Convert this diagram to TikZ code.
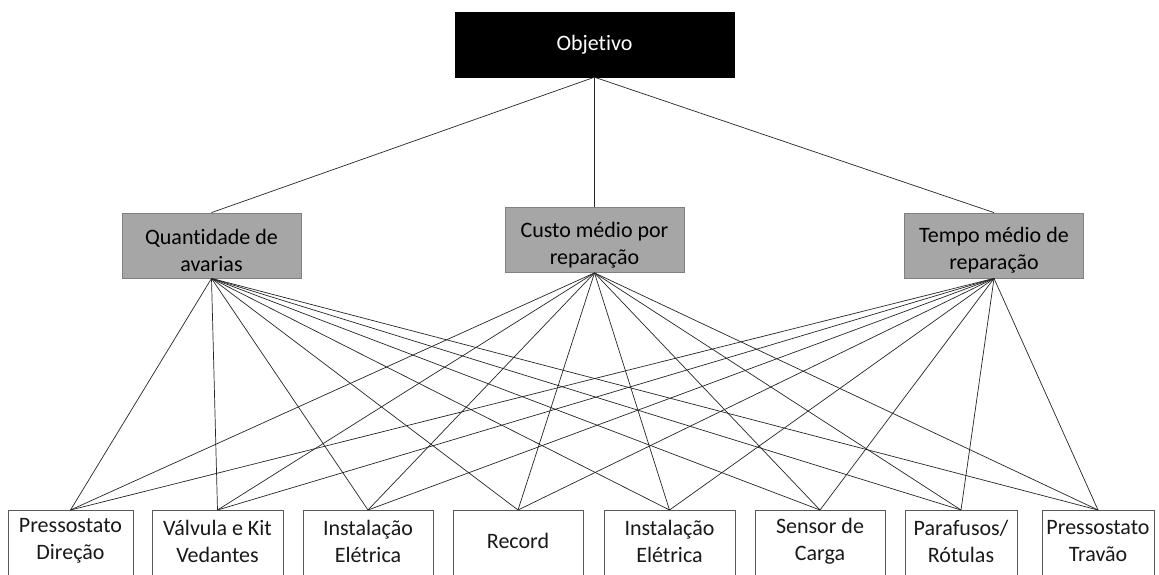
\documentclass[tikz,border=0pt]{standalone}
\usepackage{fontspec}
\setmainfont{Carlito}[Ligatures=NoCommon]
\begin{document}
\begin{tikzpicture}[x=1pt,y=-1pt,
  every node/.style={font=\fontsize{22}{27}\selectfont, align=center, inner sep=0pt},
  goalbox/.style={fill=black, draw=black, text=white, minimum width=279pt, minimum height=65pt},
  critbox/.style={fill=black!35, draw=black!50, line width=0.8pt, minimum width=179pt, minimum height=65pt},
  crittext/.style={anchor=center, text=black},
  altbox/.style={draw=black!65, line width=0.8pt, minimum height=90pt, anchor=north},
  alttext/.style={anchor=center, text=black!90},
  link/.style={draw=black!85, line width=0.7pt}
]
\clip (0,0) rectangle (1159,574);
\fill[white] (0,0) rectangle (1159,574);

% goal
\node[goalbox] (goal) at (594.5,44.5) {Objetivo};

% criteria
\node[critbox] (c1) at (211.5,245.5) {};
\node[critbox] (c2) at (594.5,240) {};
\node[critbox] (c3) at (994,245.5) {};
\node[crittext] (ct1) at ([yshift=-5pt]c1.center) {Quantidade de\\avarias};
\node[crittext] (ct2) at ([yshift=-5pt]c2.center) {Custo médio por\\reparação};
\node[crittext] (ct3) at ([yshift=-5pt]c3.center) {Tempo médio de\\reparação};

% alternatives (frames run past the lower edge)
\node[altbox, minimum width=125pt] (a1) at (70.5,510) {};
\node[altbox, minimum width=131pt] (a2) at (217.5,510) {};
\node[altbox, minimum width=130pt] (a3) at (368,510) {};
\node[altbox, minimum width=130pt] (a4) at (518,510) {};
\node[altbox, minimum width=131pt] (a5) at (669.5,510) {};
\node[altbox, minimum width=130pt] (a6) at (820,510) {};
\node[altbox, minimum width=112pt] (a7) at (961,510) {};
\node[altbox, minimum width=112pt] (a8) at (1098,510) {};

\node[alttext] (t1) at ([yshift=-31pt]a1.north) {Pressostato\\Direção};
\node[alttext] (t2) at ([yshift=-31pt]a2.north) {Válvula e Kit\\Vedantes};
\node[alttext] (t3) at ([yshift=-31pt]a3.north) {Instalação\\Elétrica};
\node[alttext] (t4) at ([yshift=-31pt]a4.north) {Record};
\node[alttext] (t5) at ([yshift=-31pt]a5.north) {Instalação\\Elétrica};
\node[alttext] (t6) at ([yshift=-31pt]a6.north) {Sensor de\\Carga};
\node[alttext] (t7) at ([yshift=-31pt]a7.north) {Parafusos/\\Rótulas};
\node[alttext] (t8) at ([yshift=-31pt]a8.north) {Pressostato\\Travão};

% goal to criteria
\foreach \c in {c1,c2,c3}
  \draw[link] (goal.south) -- (\c.north);

% criteria to alternatives
\foreach \c in {c1,c2,c3}
  \foreach \a in {a1,a2,a3,a4,a5,a6,a7,a8}
    \draw[link] (\c.south) -- (\a.north);
\end{tikzpicture}
\end{document}
